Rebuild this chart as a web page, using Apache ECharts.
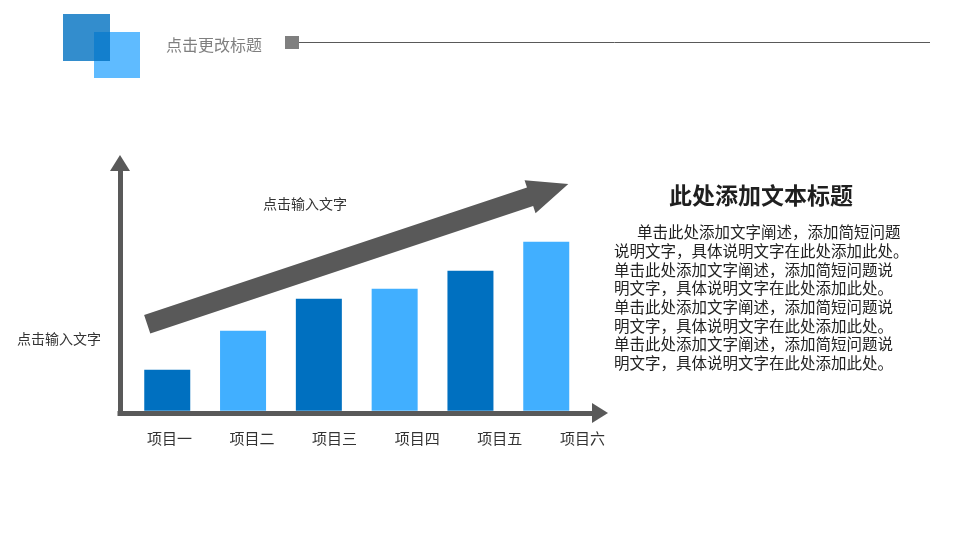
<!DOCTYPE html>
<html><head><meta charset="utf-8">
<script src="https://cdn.jsdelivr.net/npm/echarts@6/dist/echarts.min.js"></script>
<style>html,body{margin:0;padding:0;background:#fff}#c{width:960px;height:540px}</style>
</head><body><div id="c"></div>
<script>
// ---- data ----
const categories = ['项目一', '项目二', '项目三', '项目四', '项目五', '项目六'];
const values = [41, 80, 112, 122, 140, 169];
const yMax = 200;
const pageTitle = '点击更改标题';
const arrowText = '点击输入文字';
const axisText = '点击输入文字';
const sideTitle = '此处添加文本标题';
const sideLines = [
  '单击此处添加文字阐述，添加简短问题',
  '说明文字，具体说明文字在此处添加此处。',
  '单击此处添加文字阐述，添加简短问题说',
  '明文字，具体说明文字在此处添加此处。',
  '单击此处添加文字阐述，添加简短问题说',
  '明文字，具体说明文字在此处添加此处。',
  '单击此处添加文字阐述，添加简短问题说',
  '明文字，具体说明文字在此处添加此处。'
];

// ---- styles ----
const FONT = '"Noto Sans CJK SC","Noto Sans",sans-serif';
const DARK = '#0070C0', LIGHT = '#41AFFF', GRAY = '#595959';

// big decorative trend arrow
function trendArrow(tail, tip, shaftHalf, headHalf, headLen) {
  const dx = tip[0] - tail[0], dy = tip[1] - tail[1];
  const L = Math.hypot(dx, dy);
  const u = [dx / L, dy / L], n = [-u[1], u[0]];
  const b = [tip[0] - u[0] * headLen, tip[1] - u[1] * headLen];
  const p = (o, k) => [o[0] + n[0] * k, o[1] + n[1] * k];
  return [p(tail, -shaftHalf), p(b, -shaftHalf), p(b, -headHalf), tip, p(b, headHalf), p(b, shaftHalf), p(tail, shaftHalf)];
}

const chart = echarts.init(document.getElementById('c'));
const hidden = { show: false };
chart.setOption({
  backgroundColor: '#fff',
  animation: false,
  grid: [
    { left: 120, top: 163, right: 360, bottom: 127 },            // frame with arrows
    { left: 129.35, width: 454.8, top: 210.7, bottom: 129.3 },    // bars
    { left: 128.1, width: 495.6, top: 210, bottom: 127 }          // category labels
  ],
  xAxis: [
    { gridIndex: 0, type: 'value', min: 0, max: 1,
      axisLine: { show: true, onZero: false, symbol: ['none', 'triangle'], symbolSize: [20, 16],
        lineStyle: { color: GRAY, width: 5, cap: 'square' } },
      axisTick: hidden, axisLabel: hidden, splitLine: hidden },
    { gridIndex: 1, type: 'category', data: categories, show: false },
    { gridIndex: 2, type: 'category', data: categories,
      axisLine: hidden, axisTick: hidden, splitLine: hidden,
      axisLabel: { color: '#333', fontSize: 15, fontFamily: FONT, margin: 18 } }
  ],
  yAxis: [
    { gridIndex: 0, type: 'value', min: 0, max: 1,
      axisLine: { show: true, onZero: false, symbol: ['none', 'triangle'], symbolSize: [20, 16],
        lineStyle: { color: GRAY, width: 5, cap: 'square' } },
      axisTick: hidden, axisLabel: hidden, splitLine: hidden },
    { gridIndex: 1, type: 'value', min: 0, max: yMax, show: false },
    { gridIndex: 2, type: 'value', min: 0, max: 1, show: false }
  ],
  series: [{
    type: 'bar', xAxisIndex: 1, yAxisIndex: 1, data: values, barWidth: 46,
    itemStyle: { color: p => (p.dataIndex % 2 ? LIGHT : DARK) }, z: 3
  }],
  graphic: [
    { type: 'rect', shape: { x: 94, y: 32, width: 46, height: 46 }, style: { fill: '#5FBBFF' } },
    { type: 'rect', shape: { x: 63, y: 14, width: 47, height: 47 }, style: { fill: 'rgba(0,112,192,0.8)' } },
    { type: 'text', x: 166, y: 45, style: { text: pageTitle, fill: '#7f7f7f', font: '16px ' + FONT, align: 'left', verticalAlign: 'middle' } },
    { type: 'rect', shape: { x: 285, y: 36, width: 14, height: 13 }, style: { fill: '#7f7f7f' } },
    { type: 'line', shape: { x1: 299, y1: 42.5, x2: 930, y2: 42.5 }, style: { stroke: GRAY, lineWidth: 1 } },
    { type: 'polygon', shape: { points: trendArrow([147.2, 324.2], [568.3, 184], 9.75, 17.4, 40.3) }, style: { fill: GRAY } },
    { type: 'text', x: 305, y: 204, style: { text: arrowText, fill: '#333', font: '14px ' + FONT, align: 'center', verticalAlign: 'middle' } },
    { type: 'text', x: 59, y: 339, style: { text: axisText, fill: '#333', font: '14px ' + FONT, align: 'center', verticalAlign: 'middle' } },
    { type: 'text', x: 761, y: 195, style: { text: sideTitle, fill: '#1f1f1f', font: 'bold 23px ' + FONT, align: 'center', verticalAlign: 'middle' } },
    { type: 'text', x: 637, y: 231.7, style: { text: sideLines[0], fill: '#222', font: '15.5px ' + FONT, align: 'left', verticalAlign: 'middle' } },
    { type: 'text', x: 614, y: 241.65, style: { text: sideLines.slice(1).join('\n'), fill: '#222', font: '15.5px ' + FONT, lineHeight: 18.7, align: 'left', verticalAlign: 'top' } }
  ]
});
</script>
</body></html>
